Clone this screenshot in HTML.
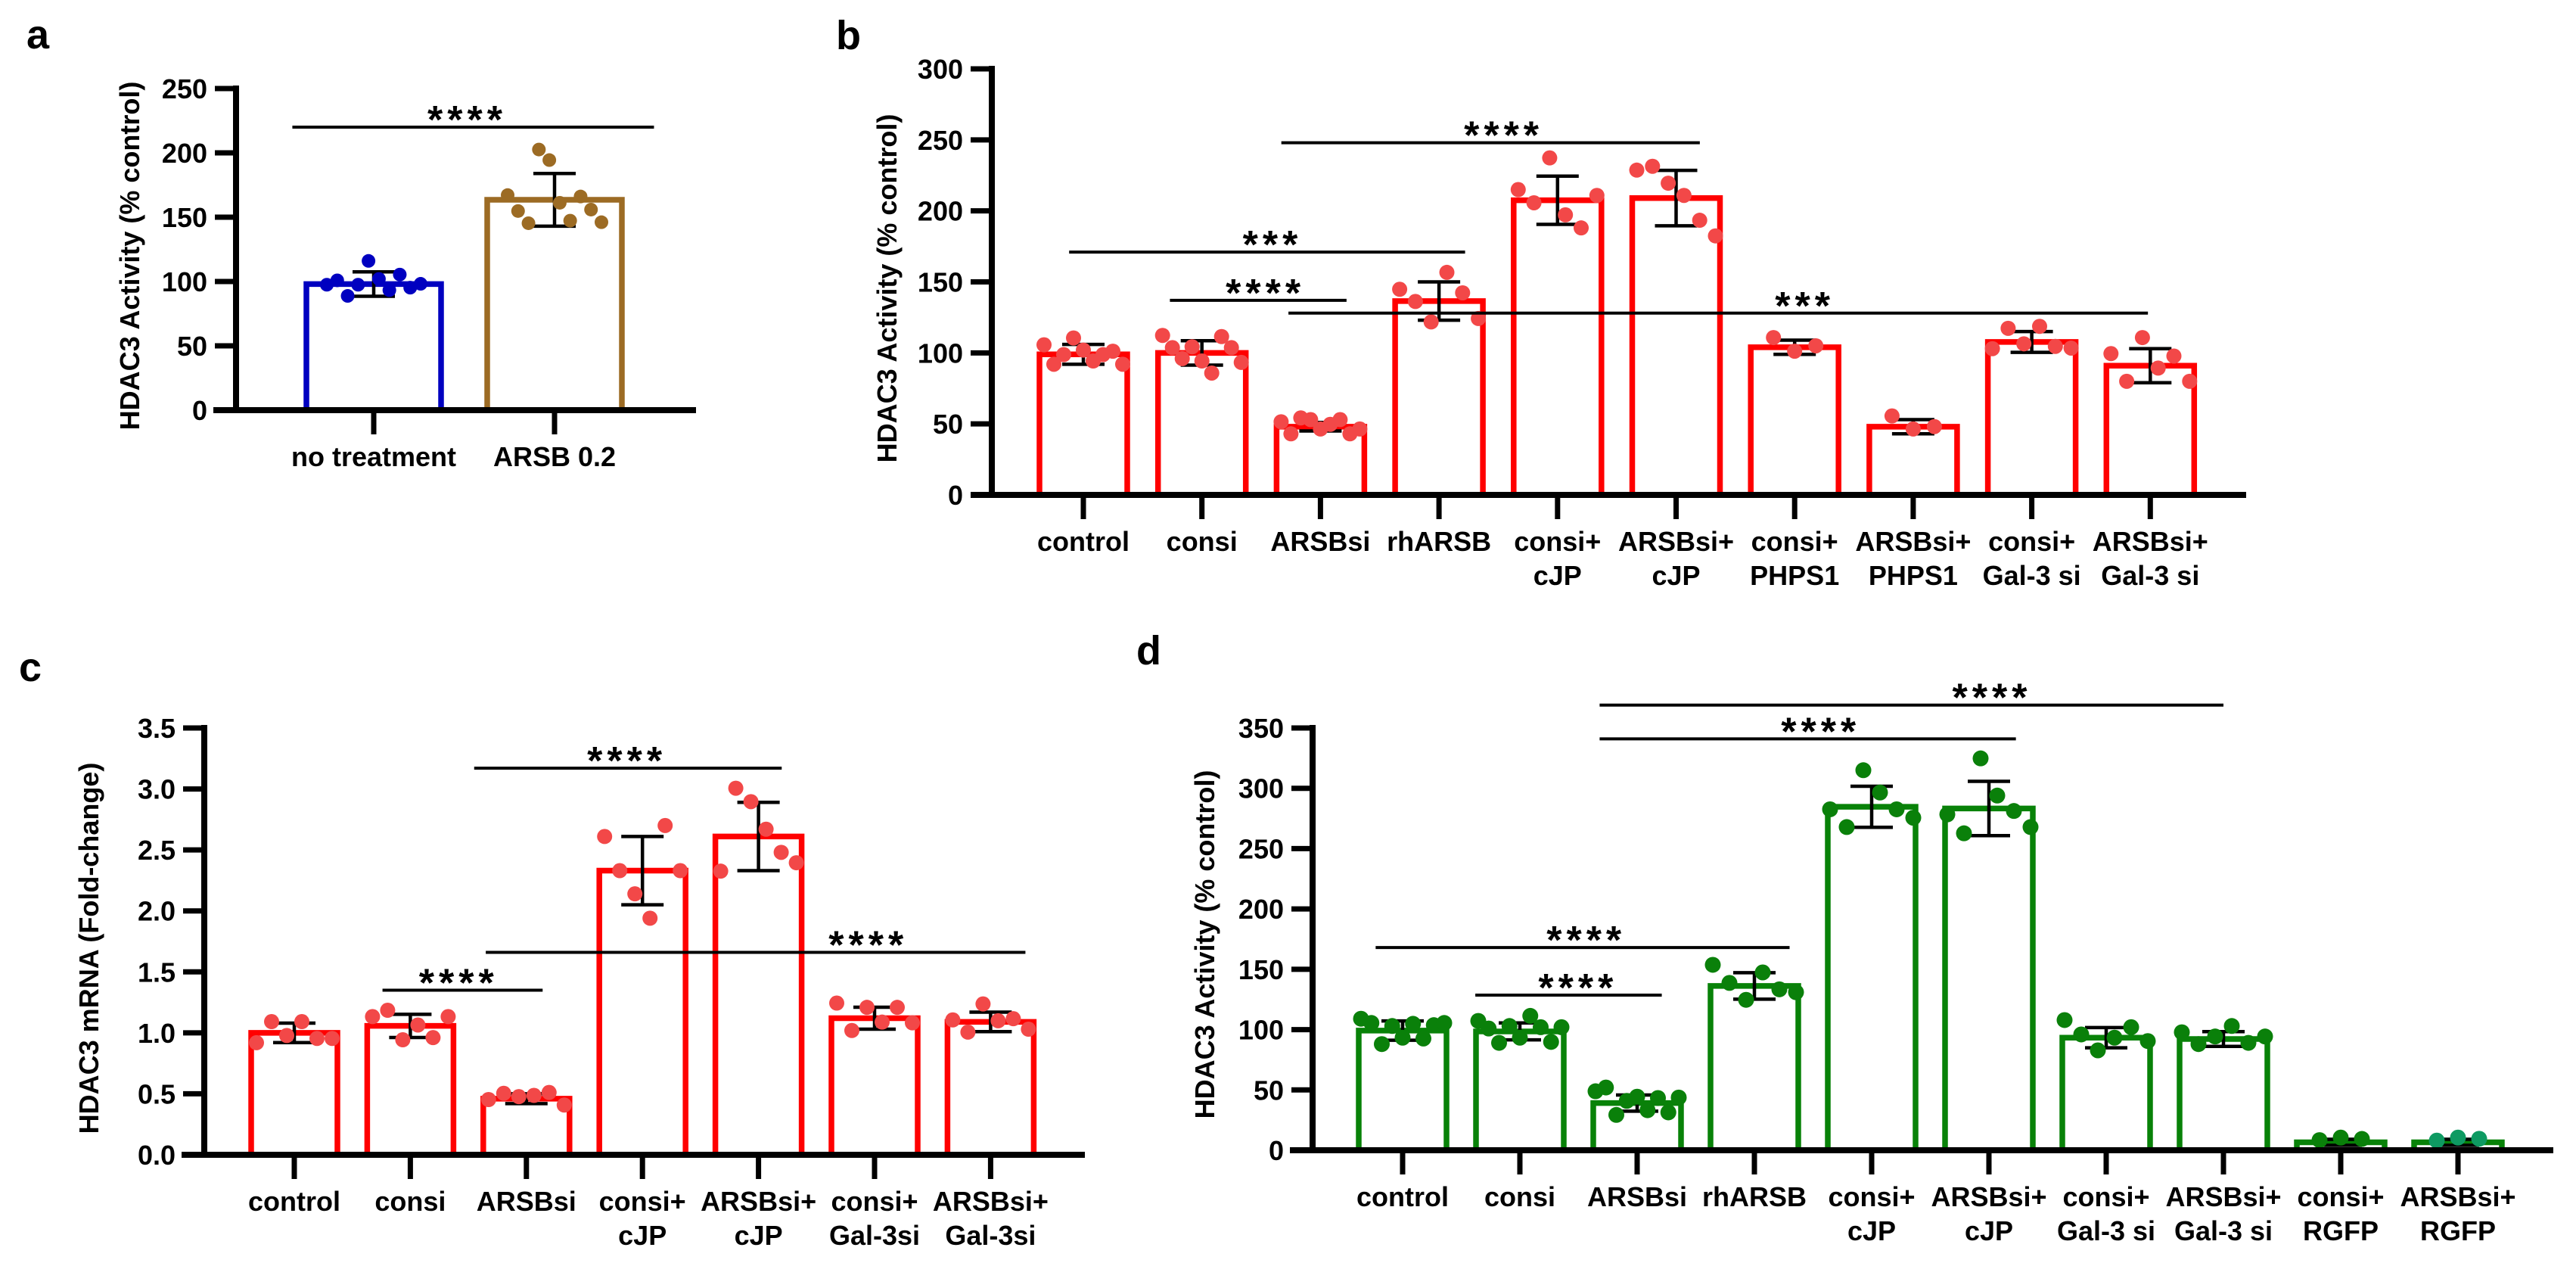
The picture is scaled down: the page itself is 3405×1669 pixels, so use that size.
<!DOCTYPE html>
<html><head><meta charset="utf-8"><style>
html,body{margin:0;padding:0;background:#fff;}
svg{display:block;font-family:"Liberation Sans",Arial,sans-serif;font-weight:bold;}
</style></head><body>
<svg id="fig" width="3405" height="1669" viewBox="0 0 3405 1669" xmlns="http://www.w3.org/2000/svg">
<rect width="3405" height="1669" fill="#fff"/>
</svg>
<script>
// ---------- Panel A data ----------
const aCats = [["no treatment"],["ARSB 0.2"]];
const aMeans = [98, 163.5];
const aSd = [9.5, 20.5];
const aDots = [
  [97.5,100.9,88.8,97.5,116,102,93.3,105.4,95.2,98.2],
  [167.2,154.8,145.3,202.6,194.4,161.2,147.3,166.1,155.9,146.1]
];
const aTicks = [0,50,100,150,200,250];
// ---------- Panel B data ----------
const bCats = [["control"],["consi"],["ARSBsi"],["rhARSB"],["consi+","cJP"],["ARSBsi+","cJP"],["consi+","PHPS1"],["ARSBsi+","PHPS1"],["consi+","Gal-3 si"],["ARSBsi+","Gal-3 si"]];
const bMeans = [99,100,48,136.5,207.5,209,104,48,107.7,91];
const bSd = [7,8.6,3,13.5,17,19.5,5,5,7.3,12];
const bDots = [
  [105.7,92,98.8,110.5,102,94.3,98.8,101.2,92],
  [112.3,103.7,96,104.3,94.3,85.8,111.5,103.7,93.3],
  [51.5,43,54.2,53,46.4,49.7,53,43,46.4],
  [144.8,136.2,121.8,156.7,142.3,124.2],
  [215,205.7,237.3,197.2,188,210.9],
  [228.7,231.4,219.5,210.9,193.4,182.4],
  [110.8,101.2,105],
  [55.6,46.4,48.1],
  [103,117.3,106.4,118.7,104.6,103.4],
  [99.5,80,110.8,89.3,97.8,80]
];
const bTicks = [0,50,100,150,200,250,300];
// ---------- Panel C data ----------
const cCats = [["control"],["consi"],["ARSBsi"],["consi+","cJP"],["ARSBsi+","cJP"],["consi+","Gal-3si"],["ARSBsi+","Gal-3si"]];
const cMeans = [1.0,1.057,0.46,2.33,2.61,1.12,1.09];
const cSd = [0.08,0.095,0.04,0.28,0.28,0.09,0.08];
const cDots = [
  [0.919,1.092,0.978,1.092,0.954,0.954],
  [1.133,1.185,0.943,1.064,0.961,1.133],
  [0.453,0.504,0.477,0.487,0.511,0.408],
  [2.61,2.33,2.14,1.94,2.70,2.33],
  [2.326,3.006,2.896,2.67,2.48,2.395],
  [1.244,1.019,1.209,1.088,1.209,1.082],
  [1.106,1.006,1.237,1.099,1.116,1.03]
];
const cTicks = [0,0.5,1.0,1.5,2.0,2.5,3.0,3.5];
// ---------- Panel D data ----------
const dCats = [["control"],["consi"],["ARSBsi"],["rhARSB"],["consi+","cJP"],["ARSBsi+","cJP"],["consi+","Gal-3 si"],["ARSBsi+","Gal-3 si"],["consi+","RGFP"],["ARSBsi+","RGFP"]];
const dMeans = [99.2,98.5,39.1,136.2,284.7,283.3,93.3,92.2,6.6,6.6];
const dSd = [8,7,6.7,11,17,22.5,8.4,6.1,2.5,2.5];
const dDots = [
  [109,105.5,88,103,93.3,104.8,92.6,103.7,105.5],
  [107.2,100.9,89,103,93.3,111.4,102,89.8,102],
  [48.9,52,29.3,40.9,44.4,33.2,43.3,31.4,43.7],
  [153.7,138.7,124.7,147.4,133.4,131],
  [282.6,267.9,315,296.5,282.6,275.6],
  [278.4,262.7,324.8,294,281.2,267.9],
  [107.9,96,82.8,93.3,102,90.5],
  [97.8,88,94.3,103,89,94.3],
  [8.4,10.5,9.4],
  [8,10.5,9.5]
];
const dTicks = [0,50,100,150,200,250,300,350];

// significance brackets: [fromCategory, toCategory, stars, starsCategory]
const aSig = [[-0.45, 1.55, "****", 0.5]];
const aSigLevel = [220];
const bSig = [[1.67, 5.2, "****", 3.52],[-0.12, 3.22, "***", 1.57],[0.73, 2.22, "****", 1.51],[1.73, 8.98, "***", 6.06]];
const bSigLevel = [248, 171, 137, 128];
const cSig = [[1.55, 4.2, "****", 2.84],[0.76, 2.14, "****", 1.39],[1.65, 6.3, "****", 4.92]];
const cSigLevel = [3.17, 1.35, 1.66];
const dSig = [[1.68, 7.0, "****", 5.0],[1.68, 5.23, "****", 3.54],[-0.23, 3.3, "****", 1.54],[0.62, 2.21, "****", 1.47]];
const dSigLevel = [369, 341, 168, 128.6];

const NS = "http://www.w3.org/2000/svg";
const svg = document.getElementById("fig");
function mk(tag, attrs, parent){
  const e = document.createElementNS(NS, tag);
  for (const k in attrs) e.setAttribute(k, attrs[k]);
  (parent||svg).appendChild(e);
  return e;
}

function drawPanel(p){
  const g = mk("g", {});
  
  
  const yMax = p.ticks[p.ticks.length-1];
  const yS = v => p.y0 - (v / yMax) * (p.y0 - p.yTop);
  const xS = i => p.c0 + i * p.step;

  const L = mk("text", {x:p.letter[0], y:p.letter[1], "font-size":54}, g);
  L.textContent = p.letterText;
  
  

  const T = mk("text", {x:0, y:0, "font-size":36, "text-anchor":"middle",
    transform:"translate(" + (p.title[0]+13) + "," + p.title[1] + ") rotate(-90)"}, g);
  T.textContent = p.titleText;
  
  

  p.means.forEach((m, i) => {
    const cx = xS(i), yv = yS(m);
    const bar = mk("path", {d:"M"+(cx-p.half)+","+p.y0+" V"+yv+" H"+(cx+p.half)+" V"+p.y0,
      fill:"#fff", stroke:p.barColor[i], "stroke-width":7.5}, g);
    
    
    const hi = yS(m + p.sd[i]), lo = yS(m - p.sd[i]);
    const eb = mk("path", {d:"M"+cx+","+hi+" V"+lo+" M"+(cx-28)+","+hi+" H"+(cx+28)+" M"+(cx-28)+","+lo+" H"+(cx+28),
      stroke:"#000", "stroke-width":4.5, fill:"none"}, g);
    
    
    const pts = p.dots[i], n = pts.length;
    const hw = Math.min(p.spread, (n-1)*14);
    pts.forEach((v, j) => {
      const dx = n > 1 ? -hw + j * (2*hw/(n-1)) : 0;
      const c = mk("circle", {cx:cx+dx, cy:yS(v), r:p.r, fill:p.dotColor[i]}, g);
      
      
    });
  });

  const ya = mk("line", {x1:p.ax, y1:yS(yMax)-4, x2:p.ax, y2:p.y0+4, stroke:"#000", "stroke-width":8}, g);
  
  
  const xa = mk("line", {x1:p.xa0, y1:p.y0, x2:p.xa1, y2:p.y0, stroke:"#000", "stroke-width":8}, g);
  
  

  p.ticks.forEach(t => {
    const ty = yS(t);
    const tk = mk("line", {x1:p.ax-28, y1:ty, x2:p.ax, y2:ty, stroke:"#000", "stroke-width":7}, g);
    
    
    const tl = mk("text", {x:p.ax-38, y:ty+13, "font-size":36, "text-anchor":"end"}, g);
    tl.textContent = p.fmt(t);
    
    
  });

  p.cats.forEach((lines, i) => {
    const cx = xS(i);
    const tk = mk("line", {x1:cx, y1:p.y0, x2:cx, y2:p.y0+32, stroke:"#000", "stroke-width":7}, g);
    
    
    lines.forEach((s, k) => {
      const tl = mk("text", {x:cx, y:p.y0+74+k*45, "font-size":36, "text-anchor":"middle"}, g);
      tl.textContent = s;
      
      
    });
  });

  p.sig.forEach((s, k) => {
    const yy = yS(p.sigLevel[k]);
    const x1 = p.c0 + s[0]*p.step, x2 = p.c0 + s[1]*p.step;
    const ln = mk("line", {x1:x1, y1:yy, x2:x2, y2:yy, stroke:"#000", "stroke-width":4}, g);
    
    
    const st = mk("text", {x:p.c0 + s[3]*p.step + 4, y:yy+8, "font-size":52, "text-anchor":"middle", "letter-spacing":6}, g);
    st.textContent = s[2];
    
    
  });
}

const intFmt = t => String(t);
const decFmt = t => t.toFixed(1);
const red = n => Array(n).fill("#ff0000");
const lred = n => Array(n).fill("#f24848");

drawPanel({name:"panel-a", letterText:"a", letter:[35,64], titleText:"HDAC3 Activity (% control)", title:[171,338],
  ticks:aTicks, fmt:intFmt, ax:312, y0:542, yTop:117, xa0:282, xa1:920, c0:494, step:239, half:89,
  cats:aCats, means:aMeans, sd:aSd, dots:aDots, barColor:["#0000c0","#9c6b24"], dotColor:["#0000c0","#9c6b24"],
  r:9, spread:62, sig:aSig, sigLevel:aSigLevel});

drawPanel({name:"panel-b", letterText:"b", letter:[1105,65], titleText:"HDAC3 Activity (% control)", title:[1172,381],
  ticks:bTicks, fmt:intFmt, ax:1311, y0:654, yTop:91, xa0:1283, xa1:2969, c0:1432, step:156.7, half:58,
  cats:bCats, means:bMeans, sd:bSd, dots:bDots, barColor:red(10), dotColor:lred(10),
  r:10, spread:52, sig:bSig, sigLevel:bSigLevel});

drawPanel({name:"panel-c", letterText:"c", letter:[25,900], titleText:"HDAC3 mRNA (Fold-change)", title:[117,1253],
  ticks:cTicks, fmt:decFmt, ax:270, y0:1526, yTop:962, xa0:240, xa1:1434, c0:389, step:153.4, half:57,
  cats:cCats, means:cMeans, sd:cSd, dots:cDots, barColor:red(7), dotColor:lred(7),
  r:10, spread:50, sig:cSig, sigLevel:cSigLevel});

const dDotCol = Array(9).fill("#0a800a").concat(["#0e9a62"]);
drawPanel({name:"panel-d", letterText:"d", letter:[1502,878], titleText:"HDAC3 Activity (% control)", title:[1592,1248],
  ticks:dTicks, fmt:intFmt, ax:1735, y0:1520, yTop:962, xa0:1705, xa1:3375, c0:1854, step:155, half:58,
  cats:dCats, means:dMeans, sd:dSd, dots:dDots, barColor:Array(10).fill("#088208"), dotColor:dDotCol,
  r:10.5, spread:55, sig:dSig, sigLevel:dSigLevel});
</script>
</body></html>
